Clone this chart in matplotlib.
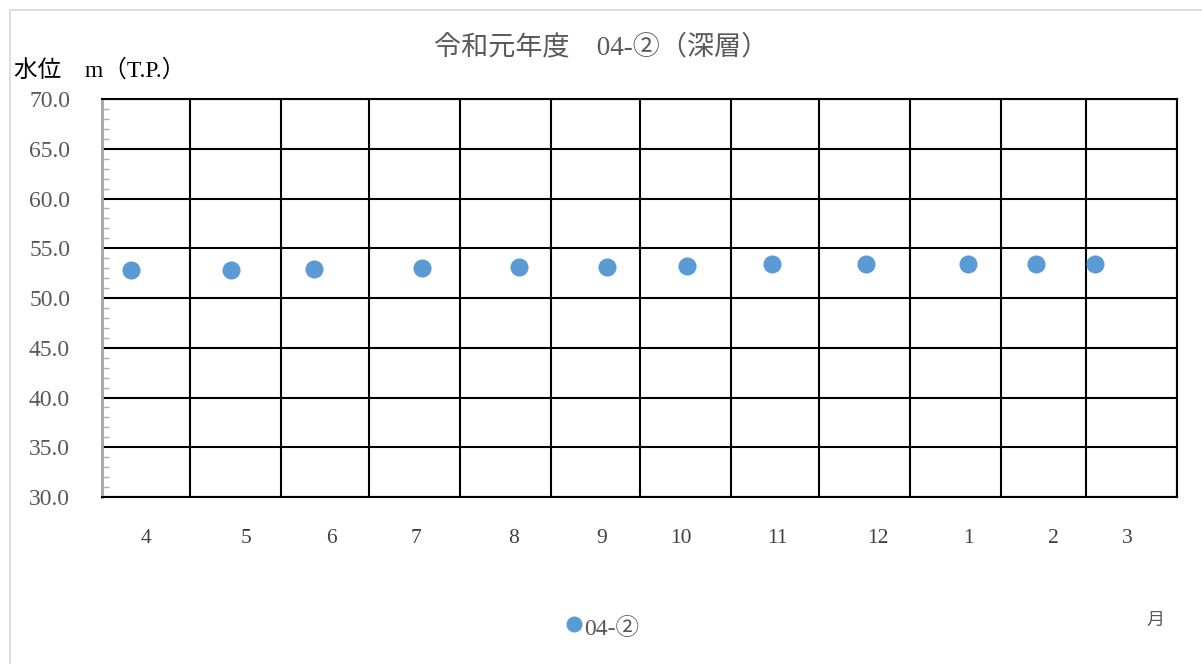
import numpy as np
import pandas as pd
import matplotlib
matplotlib.use("Agg")
import matplotlib.pyplot as plt
import matplotlib.dates as mdates
from matplotlib.transforms import blended_transform_factory
from matplotlib.patches import Rectangle

# データ（令和元年度 04-② 深層 水位）
obs_dates = ["2019-04-11", "2019-05-15", "2019-06-12", "2019-07-19", "2019-08-21", "2019-09-20",
             "2019-10-17", "2019-11-15", "2019-12-17", "2020-01-21", "2020-02-13", "2020-03-04"]
water_level = [52.8, 52.8, 52.9, 53.0, 53.1, 53.1, 53.2, 53.4, 53.4, 53.4, 53.4, 53.4]
month_labels = ["4", "5", "6", "7", "8", "9", "10", "11", "12", "1", "2", "3"]
# 月ラベルの表示位置（年度開始からの日数）
month_label_days = [15, 49, 78, 107, 140, 170, 197, 230, 264, 295, 324, 349]
y_ticks = [30, 35, 40, 45, 50, 55, 60, 65, 70]

start = pd.Timestamp("2019-04-01")
end = pd.Timestamp("2020-04-01")

fonts = ["Liberation Serif", "Noto Sans CJK JP", "DejaVu Sans"]
plt.rcParams["font.family"] = fonts

fig = plt.figure(figsize=(12.02, 6.64), dpi=100)
fig.patches.append(Rectangle((0.008, -0.02), 1.2, 1.005, transform=fig.transFigure,
                             fill=False, edgecolor="#d9d9d9", linewidth=1.2))
ax = fig.add_axes([0.0849, 0.2515, 0.8943, 0.5994])

x = pd.to_datetime(obs_dates)
ax.scatter(x, water_level, s=170, color="#5b9bd5", zorder=3, linewidths=0)

ax.set_xlim(start, end)
ax.set_ylim(30, 70)
ax.set_yticks(y_ticks)
ax.set_yticklabels([f"{v:.1f}" for v in y_ticks], fontsize=17, color="#595959")
ax.yaxis.set_minor_locator(plt.MultipleLocator(1))
ax.tick_params(axis="y", which="major", length=0, pad=23)
ax.tick_params(axis="y", which="minor", direction="in", length=5, width=1, color="#b0b0b0")

ax.xaxis.set_major_locator(mdates.MonthLocator())
ax.tick_params(axis="x", which="both", length=0, labelbottom=False)

ax.grid(True, which="major", color="black", linewidth=1.5)
for side in ["top", "right", "bottom"]:
    ax.spines[side].set_color("black")
    ax.spines[side].set_linewidth(1.5)
ax.spines["left"].set_color("#a6a6a6")
ax.spines["left"].set_linewidth(2)

trans = blended_transform_factory(ax.transData, ax.transAxes)
for lab, d in zip(month_labels, month_label_days):
    ax.text(start + pd.Timedelta(days=d), -0.105, lab, transform=trans,
            ha="center", va="center", fontsize=15.5, color="#404040")

fig.text(0.5, 0.928, "令和元年度　04-②（深層）", ha="center", va="center",
         fontsize=19.5, color="#595959")
fig.text(0.012, 0.894, "水位　m（T.P.）", ha="left", va="center", fontsize=17, color="black")
fig.text(0.961, 0.066, "月", ha="center", va="center", fontsize=13, color="#595959")

# 凡例
fig.lines.append(plt.Line2D([574 / 1202], [1 - 624 / 664], transform=fig.transFigure,
                            marker="o", markersize=10.5, color="#5b9bd5", linestyle="none"))
fig.text(584 / 1202, 1 - 629 / 664, "04-②", ha="left", va="center", fontsize=17, color="#595959")

fig.savefig("out.png", dpi=100)
